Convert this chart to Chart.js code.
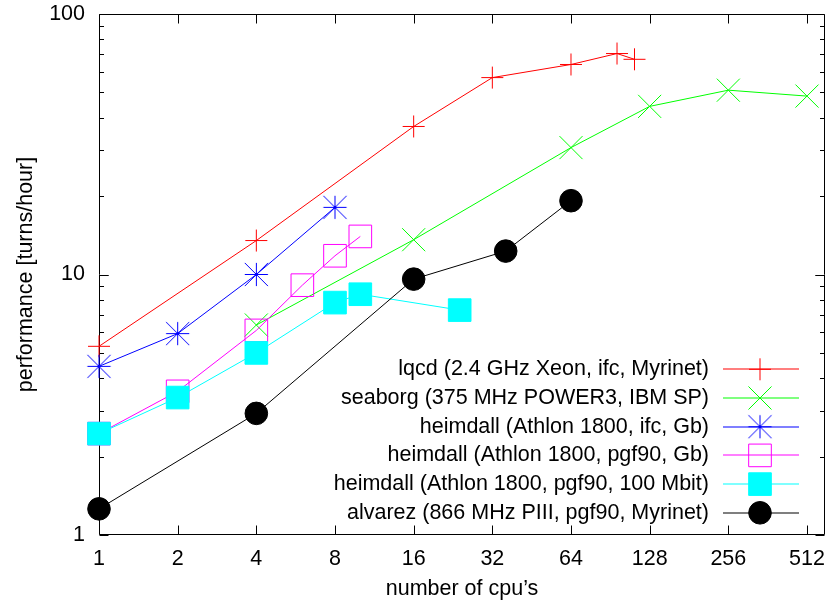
<!DOCTYPE html>
<html><head><meta charset="utf-8">
<script src="https://cdn.jsdelivr.net/npm/chart.js@4/dist/chart.umd.min.js"></script>
<style>html,body{margin:0;padding:0;background:#fff}canvas{display:block}</style>
</head><body>
<canvas id="c" width="829" height="601"></canvas>
<script>
// ---- data ----
const xTickValues = [1, 2, 4, 8, 16, 32, 64, 128, 256, 512];
const yTickValues = [1, 10, 100];
const seriesNames = [
  'lqcd (2.4 GHz Xeon, ifc, Myrinet)',
  'seaborg (375 MHz POWER3, IBM SP)',
  'heimdall (Athlon 1800, ifc, Gb)',
  'heimdall (Athlon 1800, pgf90, Gb)',
  'heimdall (Athlon 1800, pgf90, 100 Mbit)',
  'alvarez (866 MHz PIII, pgf90, Myrinet)'
];
const lqcdCpus = [1, 4, 16, 32, 64, 96, 112];
const lqcdPerf = [5.3, 13.5, 37, 57, 64, 70.5, 67];
const seaborgCpus = [4, 16, 64, 128, 256, 512];
const seaborgPerf = [6.4, 13.6, 30.7, 44.2, 51, 48.4];
const heimIfcCpus = [1, 2, 4, 8];
const heimIfcPerf = [4.44, 5.93, 10.0, 18.1];
const heimPgfGbCpus = [1, 2, 4, 6, 8, 10];
const heimPgfGbPerf = [2.45, 3.56, 6.1, 9.1, 11.8, 14.0];
const heimMbitCpus = [1, 2, 4, 8, 10, 24];
const heimMbitPerf = [2.45, 3.37, 5.0, 7.8, 8.4, 7.3];
const alvarezCpus = [1, 4, 16, 36, 64];
const alvarezPerf = [1.26, 2.93, 9.6, 12.3, 19.2];

// ---- styling ----
const seriesColors = ['#ff0000', '#00ff00', '#0000ff', '#ff00ff', '#00ffff', '#000000'];
const FONT = '"Liberation Sans", Arial, Helvetica, sans-serif';
const FS = 21.5;
function pts(xs, ys) { return xs.map((x, i) => ({x: x, y: ys[i]})); }
function makeStar(color, r) {
  const s = Math.ceil(r * 2 + 3);
  const c = document.createElement('canvas');
  c.width = s; c.height = s;
  const g = c.getContext('2d');
  g.strokeStyle = color; g.lineWidth = 1;
  const m = s / 2;
  g.beginPath();
  g.moveTo(m - r, m); g.lineTo(m + r, m);
  g.moveTo(m, m - r); g.lineTo(m, m + r);
  g.moveTo(m - r, m - r); g.lineTo(m + r, m + r);
  g.moveTo(m - r, m + r); g.lineTo(m + r, m - r);
  g.stroke();
  return c;
}
const starBlue = makeStar(seriesColors[2], 11.6);

function ds(i, data, style, radius, fill, order) {
  const color = seriesColors[i];
  return {
    label: seriesNames[i], data: data, borderColor: color, borderWidth: 1,
    pointStyle: style, pointRadius: radius, pointHoverRadius: radius,
    pointBorderColor: color, pointBackgroundColor: fill ? color : 'rgba(0,0,0,0)',
    pointBorderWidth: 1, fill: false, tension: 0, clip: false, order: order
  };
}
const datasets = [
  ds(0, pts(lqcdCpus, lqcdPerf), 'cross', 11, false, 5),
  ds(1, pts(seaborgCpus, seaborgPerf), 'crossRot', 16.3, false, 4),
  ds(2, pts(heimIfcCpus, heimIfcPerf), starBlue, 11.6, false, 3),
  ds(3, pts(heimPgfGbCpus, heimPgfGbPerf), 'rect', 16, false, 2),
  ds(4, pts(heimMbitCpus, heimMbitPerf), 'rect', 16, true, 1),
  ds(5, pts(alvarezCpus, alvarezPerf), 'circle', 11.3, true, 0)
];

// frame + inward mirrored ticks
const framePlugin = {
  id: 'frame',
  beforeDatasetsDraw(chart) {
    const ctx = chart.ctx, a = chart.chartArea;
    const xs = chart.scales.x, ys = chart.scales.y;
    ctx.save();
    ctx.strokeStyle = '#000'; ctx.lineWidth = 1;
    const L = Math.round(a.left) + 0.5, R = Math.round(a.right) - 0.5;
    const T = Math.round(a.top) + 0.5, B = Math.round(a.bottom) - 0.5;
    ctx.beginPath();
    ctx.rect(L, T, R - L, B - T);
    const maj = 9, mnr = 4.5;
    xTickValues.forEach(v => {
      const px = Math.round(xs.getPixelForValue(v)) + 0.5;
      ctx.moveTo(px, B); ctx.lineTo(px, B - maj);
      ctx.moveTo(px, T); ctx.lineTo(px, T + maj);
    });
    for (let d = 1; d < 100; d *= 10) {
      for (let k = 1; k <= 10; k++) {
        const v = d * k;
        const py = Math.round(ys.getPixelForValue(v)) + 0.5;
        const len = (k === 1 || k === 10) ? maj : mnr;
        ctx.moveTo(L, py); ctx.lineTo(L + len, py);
        ctx.moveTo(R, py); ctx.lineTo(R - len, py);
      }
    }
    ctx.stroke();
    ctx.restore();
  }
};

// gnuplot-style key, inside bottom right
const keyPlugin = {
  id: 'key',
  afterDraw(chart) {
    const ctx = chart.ctx;
    const textRight = 709, lineL = 723, lineR = 799, mk = 760;
    const y0 = 369.3, dy = 28.7;
    chart.data.datasets.forEach((d, i) => {
      const y = y0 + i * dy;
      const color = seriesColors[i];
      ctx.save();
      ctx.font = FS + 'px ' + FONT;
      ctx.textAlign = 'right'; ctx.textBaseline = 'middle';
      ctx.fillStyle = '#000';
      ctx.fillText(seriesNames[i], textRight, y);
      ctx.restore();
      ctx.save();
      ctx.strokeStyle = color; ctx.lineWidth = 1.2;
      ctx.beginPath(); ctx.moveTo(lineL, Math.round(y)); ctx.lineTo(lineR, Math.round(y)); ctx.stroke();
      ctx.restore();
      ctx.save();
      ctx.strokeStyle = color; ctx.lineWidth = 1;
      ctx.fillStyle = d.pointBackgroundColor;
      Chart.helpers.drawPoint(ctx, {pointStyle: d.pointStyle, radius: d.pointRadius, rotation: 0, borderWidth: 1}, mk, y);
      ctx.restore();
    });
  }
};

new Chart(document.getElementById('c'), {
  type: 'line',
  data: {datasets: datasets},
  plugins: [framePlugin, keyPlugin],
  options: {
    responsive: false, animation: false, devicePixelRatio: 1,
    layout: {autoPadding: false, padding: {top: 14, right: 4, left: 0, bottom: 0}},
    plugins: {legend: {display: false}, tooltip: {enabled: false}},
    events: [],
    scales: {
      x: {
        type: 'logarithmic', min: 1, max: 600, position: 'bottom',
        afterBuildTicks: s => { s.ticks = xTickValues.map(v => ({value: v})); },
        afterFit: s => { s.height = 66; s.paddingLeft = 0; s.paddingRight = 0; },
        grid: {display: false, drawTicks: false}, border: {display: false},
        ticks: {autoSkip: false, maxRotation: 0, minRotation: 0, padding: 11, color: '#000',
                font: {family: FONT, size: FS}, callback: v => String(v)},
        title: {display: true, text: 'number of cpu\u2019s', color: '#000',
                font: {family: FONT, size: FS}, padding: {top: 0, bottom: -1}}
      },
      y: {
        type: 'logarithmic', min: 1, max: 100, position: 'left',
        afterBuildTicks: s => { s.ticks = yTickValues.map(v => ({value: v})); },
        afterFit: s => { s.width = 99; s.paddingTop = 0; s.paddingBottom = 0; },
        grid: {display: false, drawTicks: false}, border: {display: false},
        ticks: {autoSkip: false, padding: 14, color: '#000',
                font: {family: FONT, size: FS}, callback: v => String(v)},
        title: {display: true, text: 'performance [turns/hour]', color: '#000',
                font: {family: FONT, size: FS}, padding: {top: 13, bottom: 0}}
      }
    }
  }
});
</script>
</body></html>
